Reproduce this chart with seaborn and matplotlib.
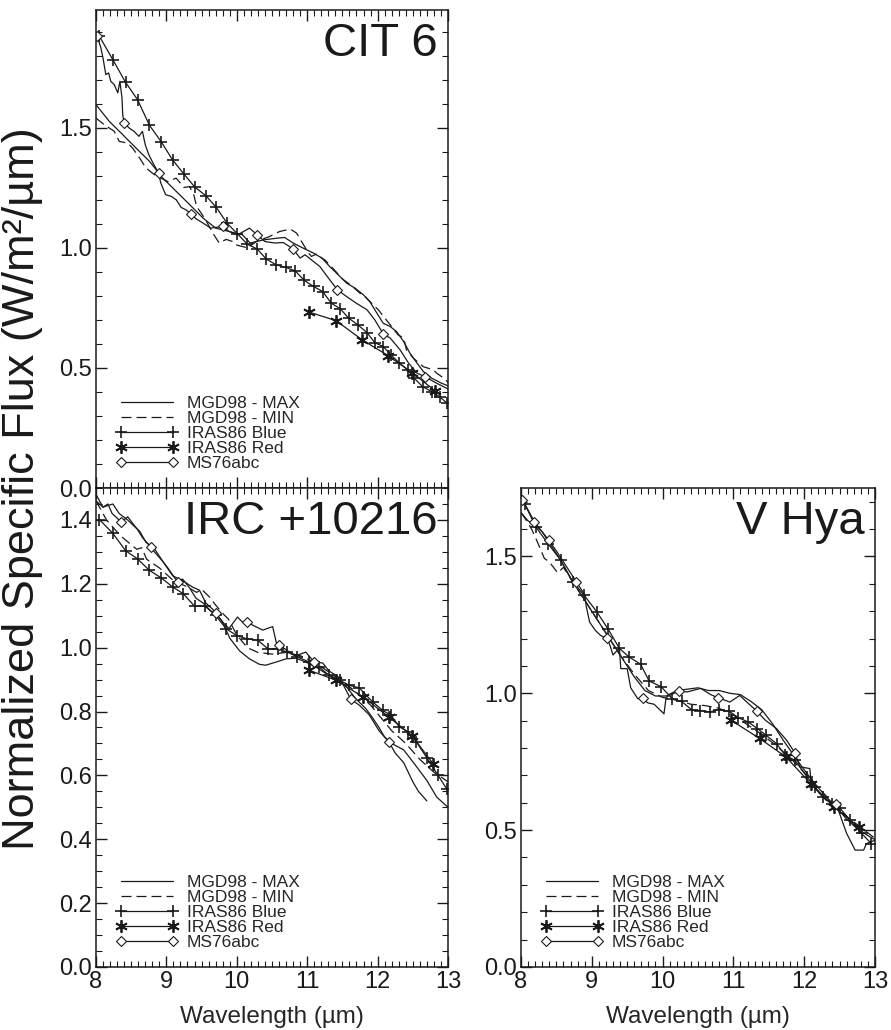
import numpy as np
import pandas as pd
import seaborn as sns
import matplotlib.pyplot as plt
from matplotlib.lines import Line2D
from matplotlib.ticker import MultipleLocator, FormatStrFormatter

# ---------------- CIT 6 ----------------
cit6_max_x = [8.00, 8.19, 8.38, 8.57, 8.76, 8.95, 9.14, 9.33, 9.52, 9.70, 9.89, 10.08, 10.19, 10.38, 10.57,
              10.68, 10.80, 10.94, 11.09, 11.21, 11.32, 11.44, 11.56, 11.68, 11.80, 11.89, 11.99, 12.08, 12.18,
              12.27, 12.37, 12.46, 12.56, 12.65, 12.77, 12.91, 13.03]
cit6_max_y = [1.596, 1.526, 1.471, 1.415, 1.360, 1.290, 1.235, 1.180, 1.124, 1.082, 1.068, 1.054, 1.020, 1.033,
              1.040, 1.043, 1.020, 0.999, 0.978, 0.957, 0.922, 0.888, 0.853, 0.832, 0.804, 0.776, 0.728, 0.686,
              0.672, 0.651, 0.610, 0.561, 0.520, 0.485, 0.457, 0.436, 0.422]
cit6_min_x = [8.00, 8.12, 8.26, 8.33, 8.45, 8.52, 8.62, 8.71, 8.85, 9.02, 9.14, 9.25, 9.33, 9.39, 9.43, 9.55,
              9.66, 9.75, 9.85, 9.94, 9.99, 10.15, 10.30, 10.45, 10.61, 10.76, 10.85, 10.92, 11.02, 11.06, 11.14,
              11.21, 11.25, 11.38, 11.50, 11.62, 11.75, 11.82, 11.94, 12.01, 12.15, 12.29, 12.37, 12.41, 12.51,
              12.65, 12.79, 12.84, 12.95, 13.03]
cit6_min_y = [1.540, 1.512, 1.485, 1.443, 1.436, 1.415, 1.374, 1.332, 1.300, 1.276, 1.290, 1.251, 1.255, 1.220,
              1.172, 1.120, 1.061, 1.020, 1.035, 1.026, 1.012, 1.000, 1.030, 1.045, 1.068, 1.078, 1.061, 1.026,
              0.978, 0.964, 0.975, 0.957, 0.950, 0.910, 0.870, 0.845, 0.811, 0.797, 0.762, 0.742, 0.690, 0.638,
              0.624, 0.575, 0.540, 0.505, 0.492, 0.478, 0.455, 0.430]
cit6_blue_x = [8.05, 8.24, 8.42, 8.59, 8.76, 8.93, 9.09, 9.25, 9.40, 9.56, 9.71, 9.86, 10.01, 10.15, 10.29, 10.42,
               10.56, 10.70, 10.83, 10.96, 11.09, 11.22, 11.34, 11.47, 11.59, 11.72, 11.85, 11.96, 12.08, 12.19,
               12.31, 12.43, 12.52, 12.64, 12.77, 12.88, 12.98]
cit6_blue_y = [1.880, 1.783, 1.689, 1.617, 1.510, 1.440, 1.365, 1.307, 1.254, 1.217, 1.168, 1.103, 1.058, 1.015,
               0.995, 0.953, 0.929, 0.918, 0.904, 0.864, 0.839, 0.818, 0.770, 0.746, 0.707, 0.679, 0.647, 0.605,
               0.589, 0.554, 0.520, 0.492, 0.457, 0.422, 0.401, 0.380, 0.355]
cit6_red_x = [11.03, 11.41, 11.78, 12.15, 12.49, 12.82]
cit6_red_y = [0.732, 0.697, 0.617, 0.551, 0.480, 0.404]
cit6_ms76_x = [8.02, 8.07, 8.10, 8.14, 8.18, 8.21, 8.26, 8.31, 8.34, 8.37, 8.38, 8.40, 8.47, 8.54, 8.61, 8.66,
               8.70, 8.75, 8.81, 8.89, 8.92, 8.99, 9.07, 9.14, 9.21, 9.28, 9.35, 9.42, 9.52, 9.63, 9.80, 9.89,
               10.01, 10.08, 10.18, 10.29, 10.40, 10.54, 10.66, 10.80, 10.90, 10.97, 11.09, 11.18, 11.32, 11.43,
               11.56, 11.70, 11.85, 11.96, 12.08, 12.18, 12.32, 12.44, 12.56, 12.67, 12.84, 13.03]
cit6_ms76_y = [1.880, 1.832, 1.790, 1.721, 1.728, 1.693, 1.679, 1.645, 1.693, 1.624, 1.554, 1.520, 1.499, 1.485,
               1.464, 1.485, 1.429, 1.388, 1.353, 1.311, 1.270, 1.221, 1.214, 1.200, 1.168, 1.158, 1.140, 1.121,
               1.103, 1.082, 1.089, 1.068, 1.054, 1.065, 1.082, 1.054, 1.026, 1.020, 1.022, 0.995, 0.957, 0.971,
               0.943, 0.922, 0.867, 0.825, 0.797, 0.769, 0.742, 0.700, 0.642, 0.624, 0.575, 0.520, 0.478, 0.464,
               0.436, 0.408]
cit6_ms76_marks = [8.02, 8.40, 8.89, 9.35, 9.80, 10.29, 10.80, 11.43, 12.08, 12.67]

# ---------------- IRC +10216 ----------------
irc_max_x = [8.00, 8.10, 8.24, 8.33, 8.45, 8.52, 8.62, 8.71, 8.83, 8.95, 9.09, 9.23, 9.37, 9.47, 9.56, 9.66,
             9.80, 9.90, 10.04, 10.18, 10.32, 10.41, 10.56, 10.70, 10.84, 10.98, 11.12, 11.26, 11.40, 11.55,
             11.69, 11.83, 11.93, 12.02, 12.10, 12.20, 12.37, 12.51, 12.70, 12.84, 13.00]
irc_max_y = [1.480, 1.440, 1.450, 1.420, 1.400, 1.385, 1.365, 1.330, 1.310, 1.270, 1.225, 1.210, 1.190, 1.180,
             1.140, 1.120, 1.080, 1.030, 0.990, 0.965, 0.948, 0.945, 0.955, 0.965, 0.967, 0.955, 0.940, 0.920,
             0.905, 0.880, 0.840, 0.810, 0.780, 0.750, 0.720, 0.700, 0.680, 0.640, 0.584, 0.532, 0.500]
irc_min_x = [8.00, 8.15, 8.35, 8.58, 8.65, 8.72, 8.90, 9.10, 9.30, 9.43, 9.50, 9.62, 9.69, 9.81, 9.88, 10.00,
             10.15, 10.30, 10.50, 10.70, 10.90, 11.10, 11.30, 11.50, 11.70, 11.90, 12.05, 12.20, 12.40, 12.60,
             12.80, 13.00]
irc_min_y = [1.460, 1.400, 1.350, 1.308, 1.313, 1.277, 1.250, 1.210, 1.190, 1.173, 1.183, 1.157, 1.136, 1.105,
             1.090, 1.040, 1.000, 0.985, 0.980, 0.985, 0.975, 0.955, 0.925, 0.895, 0.860, 0.820, 0.780, 0.740,
             0.700, 0.650, 0.610, 0.580]
irc_blue_x = [8.05, 8.24, 8.42, 8.59, 8.76, 8.93, 9.09, 9.24, 9.40, 9.55, 9.70, 9.85, 10.00, 10.14, 10.30, 10.44,
              10.58, 10.72, 10.86, 11.03, 11.17, 11.31, 11.46, 11.60, 11.74, 11.93, 12.07, 12.19, 12.31, 12.43,
              12.55, 12.70, 12.86, 12.98]
irc_blue_y = [1.401, 1.358, 1.304, 1.278, 1.242, 1.218, 1.190, 1.169, 1.130, 1.130, 1.101, 1.059, 1.038, 1.028,
              1.023, 0.997, 0.996, 0.986, 0.971, 0.955, 0.940, 0.913, 0.898, 0.882, 0.874, 0.830, 0.804, 0.788,
              0.752, 0.737, 0.705, 0.655, 0.600, 0.558]
irc_red_x = [11.03, 11.41, 11.79, 12.16, 12.49, 12.79]
irc_red_y = [0.929, 0.898, 0.846, 0.783, 0.724, 0.636]
irc_ms76_x = [8.00, 8.10, 8.17, 8.23, 8.28, 8.36, 8.45, 8.52, 8.59, 8.66, 8.78, 8.83, 8.95, 9.02, 9.16, 9.23,
              9.33, 9.42, 9.52, 9.63, 9.70, 9.80, 9.89, 10.01, 10.08, 10.15, 10.23, 10.37, 10.51, 10.56, 10.60,
              10.75, 10.84, 10.98, 11.10, 11.22, 11.31, 11.46, 11.62, 11.74, 11.88, 12.02, 12.16, 12.25, 12.37,
              12.50, 12.58, 12.70]
irc_ms76_y = [1.460, 1.440, 1.450, 1.420, 1.410, 1.393, 1.410, 1.390, 1.370, 1.345, 1.315, 1.300, 1.270, 1.250,
              1.205, 1.215, 1.187, 1.155, 1.140, 1.115, 1.109, 1.080, 1.060, 1.096, 1.080, 1.080, 1.070, 1.055,
              1.066, 1.017, 1.009, 0.986, 0.975, 0.986, 0.955, 0.952, 0.927, 0.906, 0.838, 0.820, 0.790, 0.740,
              0.705, 0.670, 0.640, 0.580, 0.550, 0.520]
irc_ms76_marks = [8.36, 8.78, 9.16, 9.70, 10.15, 10.60, 11.10, 11.62, 12.16]

# ---------------- V Hya ----------------
vhya_max_x = [8.00, 8.10, 8.20, 8.30, 8.40, 8.55, 8.70, 8.85, 9.00, 9.15, 9.30, 9.45, 9.60, 9.75, 9.90, 10.05,
              10.20, 10.35, 10.50, 10.65, 10.80, 10.95, 11.10, 11.25, 11.40, 11.55, 11.70, 11.85, 12.00, 12.15,
              12.30, 12.45, 12.60, 12.75, 12.90, 13.00]
vhya_max_y = [1.660, 1.630, 1.615, 1.590, 1.550, 1.490, 1.420, 1.360, 1.300, 1.240, 1.180, 1.120, 1.060, 1.010,
              0.990, 0.990, 1.010, 1.015, 1.020, 1.010, 1.010, 1.000, 0.995, 0.970, 0.940, 0.890, 0.830, 0.775,
              0.720, 0.670, 0.625, 0.585, 0.540, 0.505, 0.480, 0.465]
vhya_min_x = [8.00, 8.08, 8.15, 8.22, 8.33, 8.40, 8.52, 8.60, 8.75, 9.00, 9.20, 9.40, 9.60, 9.80, 10.00, 10.20,
              10.40, 10.60, 10.80, 11.00, 11.20, 11.40, 11.60, 11.80, 12.00, 12.20, 12.40, 12.60, 12.80, 13.00]
vhya_min_y = [1.660, 1.630, 1.600, 1.560, 1.493, 1.480, 1.440, 1.460, 1.400, 1.300, 1.220, 1.140, 1.070, 1.010,
              0.985, 0.975, 0.960, 0.955, 0.945, 0.920, 0.885, 0.850, 0.810, 0.765, 0.710, 0.655, 0.600, 0.550,
              0.510, 0.470]
vhya_blue_x = [8.05, 8.21, 8.38, 8.56, 8.73, 8.89, 9.07, 9.23, 9.39, 9.52, 9.69, 9.81, 9.98, 10.14, 10.27, 10.41,
               10.53, 10.67, 10.80, 10.94, 11.07, 11.21, 11.34, 11.46, 11.61, 11.73, 11.87, 12.04, 12.15, 12.27,
               12.39, 12.51, 12.65, 12.81, 12.95]
vhya_blue_y = [1.693, 1.608, 1.547, 1.487, 1.408, 1.359, 1.298, 1.235, 1.164, 1.134, 1.106, 1.045, 1.024, 0.979,
               0.970, 0.940, 0.937, 0.932, 0.940, 0.934, 0.911, 0.895, 0.871, 0.847, 0.816, 0.774, 0.755, 0.695,
               0.658, 0.622, 0.597, 0.579, 0.536, 0.488, 0.451]
vhya_red_x = [10.97, 11.37, 11.74, 12.10, 12.42, 12.78]
vhya_red_y = [0.901, 0.835, 0.768, 0.668, 0.585, 0.510]
vhya_ms76_x = [8.00, 8.02, 8.10, 8.19, 8.30, 8.39, 8.50, 8.60, 8.78, 8.90, 8.92, 8.97, 9.05, 9.13, 9.22, 9.27,
               9.30, 9.39, 9.41, 9.50, 9.55, 9.65, 9.72, 9.79, 9.88, 10.02, 10.05, 10.12, 10.23, 10.35, 10.54,
               10.68, 10.78, 10.95, 11.09, 11.19, 11.33, 11.45, 11.61, 11.75, 11.87, 11.94, 12.08, 12.10, 12.22,
               12.31, 12.45, 12.55, 12.60, 12.72, 12.84, 12.88, 13.00]
vhya_ms76_y = [1.720, 1.706, 1.670, 1.626, 1.590, 1.560, 1.520, 1.480, 1.408, 1.360, 1.320, 1.260, 1.230, 1.210,
               1.203, 1.165, 1.140, 1.165, 1.090, 1.090, 1.020, 0.980, 0.982, 0.965, 0.960, 0.925, 0.985, 0.995,
               1.008, 1.005, 1.018, 0.995, 0.984, 0.968, 0.992, 0.968, 0.935, 0.902, 0.871, 0.829, 0.782, 0.731,
               0.725, 0.670, 0.633, 0.609, 0.597, 0.524, 0.488, 0.427, 0.427, 0.451, 0.463]
vhya_ms76_marks = [8.02, 8.19, 8.39, 8.78, 9.22, 9.72, 10.23, 10.78, 11.33, 11.87, 12.45]

legend_labels = ['MGD98 - MAX', 'MGD98 - MIN', 'IRAS86 Blue', 'IRAS86 Red', 'MS76abc']

sns.set_theme(style='ticks')
plt.rcParams['font.family'] = ['Liberation Sans', 'DejaVu Sans']

ASTER = (6, 2, 0)
DASH = (8, 4)
LW = 0.9

fig = plt.figure(figsize=(8.91, 10.30), dpi=100)
ax_cit = fig.add_axes([0.1077, 0.5262, 0.3951, 0.4641])
ax_irc = fig.add_axes([0.1077, 0.0612, 0.3951, 0.4650])
ax_vhy = fig.add_axes([0.5847, 0.0612, 0.3973, 0.4650])

panels = [
    (ax_cit, 'CIT 6', (0, 1.99), [0, 0.5, 1.0, 1.5], 0.1, False,
     (cit6_max_x, cit6_max_y), (cit6_min_x, cit6_min_y), (cit6_blue_x, cit6_blue_y),
     (cit6_red_x, cit6_red_y), (cit6_ms76_x, cit6_ms76_y), cit6_ms76_marks),
    (ax_irc, 'IRC +10216', (0, 1.5), [0, 0.2, 0.4, 0.6, 0.8, 1.0, 1.2, 1.4], 0.05, True,
     (irc_max_x, irc_max_y), (irc_min_x, irc_min_y), (irc_blue_x, irc_blue_y),
     (irc_red_x, irc_red_y), (irc_ms76_x, irc_ms76_y), irc_ms76_marks),
    (ax_vhy, 'V Hya', (0, 1.75), [0, 0.5, 1.0, 1.5], 0.1, True,
     (vhya_max_x, vhya_max_y), (vhya_min_x, vhya_min_y), (vhya_blue_x, vhya_blue_y),
     (vhya_red_x, vhya_red_y), (vhya_ms76_x, vhya_ms76_y), vhya_ms76_marks),
]

for ax, name, ylim, yticks, yminor, show_x, mx, mn, blue, red, ms76, marks in panels:
    sns.lineplot(x=mx[0], y=mx[1], ax=ax, color='k', lw=LW, estimator=None, sort=False)
    sns.lineplot(x=mn[0], y=mn[1], ax=ax, color='k', lw=LW, estimator=None, sort=False)
    ax.lines[-1].set_dashes(DASH)
    sns.lineplot(x=blue[0], y=blue[1], ax=ax, color='k', lw=LW, marker='+', ms=8, mew=1.2, mec='k',
                 estimator=None, sort=False)
    sns.lineplot(x=red[0], y=red[1], ax=ax, color='k', lw=LW, marker=ASTER, ms=9, mew=1.3, mec='k',
                 estimator=None, sort=False)
    every = [i for i, v in enumerate(ms76[0]) if v in marks]
    sns.lineplot(x=ms76[0], y=ms76[1], ax=ax, color='k', lw=LW, marker='D', ms=5.5, mfc='white',
                 mec='k', mew=0.8, markevery=every, estimator=None, sort=False)

    ax.set_xlim(8, 13)
    ax.set_ylim(*ylim)
    ax.set_yticks(yticks)
    ax.xaxis.set_major_locator(MultipleLocator(1))
    ax.xaxis.set_minor_locator(MultipleLocator(0.1))
    ax.yaxis.set_minor_locator(MultipleLocator(yminor))
    ax.yaxis.set_major_formatter(FormatStrFormatter('%.1f'))
    ax.tick_params(which='both', direction='in', top=True, right=True, colors='k',
                   labelsize=17, pad=3)
    ax.tick_params(which='major', length=8, width=1.0)
    ax.tick_params(which='minor', length=4, width=0.8)
    for sp in ax.spines.values():
        sp.set_visible(True)
        sp.set_linewidth(1.1)
        sp.set_color('k')
    ax.set_xlabel('Wavelength (µm)' if show_x else '', fontsize=17.5, labelpad=9)
    ax.set_ylabel('')
    if not show_x:
        ax.tick_params(axis='x', labelbottom=False)
    ax.set_facecolor('white')

    ax.text(0.97, 0.975, name, transform=ax.transAxes, ha='right', va='top', fontsize=34, color='k')

    handles = [
        Line2D([], [], color='k', lw=LW),
        Line2D([], [], color='k', lw=LW, dashes=DASH),
        Line2D([], [], color='k', lw=LW, marker='+', ms=8, mew=1.2),
        Line2D([], [], color='k', lw=LW, marker=ASTER, ms=9, mew=1.3),
        Line2D([], [], color='k', lw=LW, marker='D', ms=5.5, mfc='white', mec='k', mew=0.8),
    ]
    ax.legend(handles, legend_labels, loc='lower left', bbox_to_anchor=(0.055, 0.035), frameon=False,
              numpoints=2, fontsize=12.5, handlelength=3.6, handletextpad=0.5, labelspacing=0.0,
              borderpad=0, borderaxespad=0)

fig.text(0.025, 0.526, 'Normalized Specific Flux (W/m²/µm)', rotation=90, ha='center', va='center',
         fontsize=32.5, color='k')

fig.savefig('out.png', dpi=100, facecolor='white')
